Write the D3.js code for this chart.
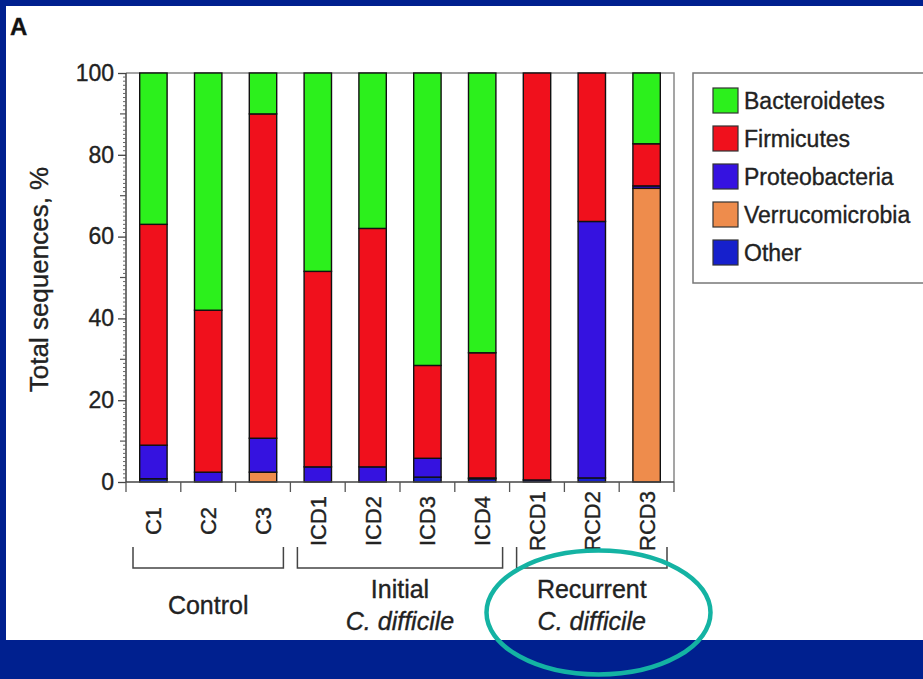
<!DOCTYPE html>
<html>
<head>
<meta charset="utf-8">
<script src="https://cdn.jsdelivr.net/npm/d3@7"></script>
<style>
  html, body { margin: 0; padding: 0; background: #00208f; }
  svg { display: block; font-family: "Liberation Sans", Arial, Helvetica, sans-serif; }
  svg text { stroke: #222; stroke-width: 0.35px; }
</style>
</head>
<body>
<svg id="chart" width="923" height="679"></svg>
<script>
// Samples and their groups
const samples = ["C1", "C2", "C3", "ICD1", "ICD2", "ICD3", "ICD4", "RCD1", "RCD2", "RCD3"];
const groups = [
  { lines: ["Control"], italic: [false], from: "C1", to: "C3" },
  { lines: ["Initial", "C. difficile"], italic: [false, true], from: "ICD1", to: "ICD4" },
  { lines: ["Recurrent", "C. difficile"], italic: [false, true], from: "RCD1", to: "RCD3" }
];

// Phylum share of total sequences (%), one array per phylum, in sample order
const other           = [0.8, 0,    0,    0,    0,    1.2,  0.8,  0.5,  1.0,  0];
const verrucomicrobia = [0,   0,    2.4,  0,    0,    0,    0,    0,    0,    71.8];
const proteobacteria  = [8.2, 2.4,  8.3,  3.7,  3.7,  4.6,  0.2,  0,    62.7, 0.6];
const firmicutes      = [54.0, 39.6, 79.3, 47.8, 58.3, 22.7, 30.6, 99.5, 36.3, 10.3];
const bacteroidetes   = [37.0, 58.0, 10.0, 48.5, 38.0, 71.5, 68.4, 0,    0,    17.3];

const yTicks = [0, 20, 40, 60, 80, 100];

// Stack order from the baseline upward
const stackKeys = ["Other", "Verrucomicrobia", "Proteobacteria", "Firmicutes", "Bacteroidetes"];
const seriesValues = {
  "Other": other,
  "Verrucomicrobia": verrucomicrobia,
  "Proteobacteria": proteobacteria,
  "Firmicutes": firmicutes,
  "Bacteroidetes": bacteroidetes
};
const legendKeys = ["Bacteroidetes", "Firmicutes", "Proteobacteria", "Verrucomicrobia", "Other"];
const colors = {
  "Bacteroidetes": "#2cf01c",
  "Firmicutes": "#f0101c",
  "Proteobacteria": "#3512e0",
  "Verrucomicrobia": "#ee8c4c",
  "Other": "#1620cc"
};

const table = samples.map((s, i) => {
  const row = { sample: s };
  stackKeys.forEach(k => { row[k] = seriesValues[k][i]; });
  return row;
});

const svg = d3.select("#chart");

// White panel on the blue slide
svg.append("rect").attr("x", 6).attr("y", 6).attr("width", 917).attr("height", 634).attr("fill", "#fff");

svg.append("text").attr("x", 10).attr("y", 35)
  .attr("font-size", 24).attr("font-weight", "bold").attr("fill", "#111").text("A");

const x = d3.scaleBand().domain(samples).range([126, 674]).paddingInner(0.5).paddingOuter(0.25);
const y = d3.scaleLinear().domain([0, 100]).range([482, 73]);

// Frame on top and right
svg.append("path")
  .attr("d", `M${x.range()[0]},${y(100)}H${x.range()[1]}V${y(0)}`)
  .attr("fill", "none").attr("stroke", "#888").attr("stroke-width", 1.5);

// Stacked bars
const stacked = d3.stack().keys(stackKeys)(table);
const layers = svg.append("g").selectAll("g").data(stacked).join("g")
  .attr("fill", d => colors[d.key]);
layers.selectAll("rect").data(d => d.filter(p => p[1] - p[0] > 0)).join("rect")
  .attr("x", d => x(d.data.sample))
  .attr("width", x.bandwidth())
  .attr("y", d => y(d[1]))
  .attr("height", d => y(d[0]) - y(d[1]))
  .attr("stroke", "#111").attr("stroke-width", 1.4);

// Y axis with minor ticks
const minor = d3.range(0, 101, 1).filter(v => v % 10 !== 0);
const mid = d3.range(10, 100, 20);
const yAxisG = svg.append("g").attr("transform", `translate(${x.range()[0]},0)`);
yAxisG.append("line").attr("y1", y(0)).attr("y2", y(100)).attr("stroke", "#444").attr("stroke-width", 1.5);
yAxisG.selectAll("line.minor").data(minor).join("line").attr("class", "minor")
  .attr("x1", -3).attr("x2", 0).attr("y1", d => y(d)).attr("y2", d => y(d))
  .attr("stroke", "#666").attr("stroke-width", 1);
yAxisG.selectAll("line.mid").data(mid).join("line").attr("class", "mid")
  .attr("x1", -6).attr("x2", 0).attr("y1", d => y(d)).attr("y2", d => y(d))
  .attr("stroke", "#555").attr("stroke-width", 1.2);
const yAxis = d3.axisLeft(y).tickValues(yTicks).tickSize(8).tickPadding(4);
const yg = svg.append("g").attr("transform", `translate(${x.range()[0]},0)`).call(yAxis);
yg.select(".domain").remove();
yg.selectAll(".tick line").attr("stroke", "#444").attr("stroke-width", 1.3);
yg.selectAll(".tick text").attr("font-size", 23).attr("fill", "#222")
  .attr("font-family", "Liberation Sans, Arial, sans-serif");

svg.append("text")
  .attr("transform", `translate(48,${(y(0) + y(100)) / 2 + 2}) rotate(-90)`)
  .attr("text-anchor", "middle").attr("font-size", 26).attr("fill", "#222")
  .text("Total sequences, %");

// X axis: baseline and ticks between bars
const step = x.step();
const boundaries = d3.range(samples.length + 1).map(i => x.range()[0] + i * step);
svg.append("line").attr("x1", x.range()[0]).attr("x2", x.range()[1])
  .attr("y1", y(0)).attr("y2", y(0)).attr("stroke", "#444").attr("stroke-width", 1.5);
svg.append("g").selectAll("line").data(boundaries).join("line")
  .attr("x1", d => d).attr("x2", d => d)
  .attr("y1", y(0)).attr("y2", y(0) + 10)
  .attr("stroke", "#555").attr("stroke-width", 1.3);

// Rotated sample labels
svg.append("g").selectAll("text").data(samples).join("text")
  .attr("transform", d => `translate(${x(d) + x.bandwidth() / 2 + 8},521) rotate(-90)`)
  .attr("text-anchor", "middle").attr("font-size", 22).attr("fill", "#222")
  .text(d => d);

// Group brackets and names
const bracketTop = 547, bracketBottom = 568;
const bracketInset = 7;
groups.forEach(g => {
  const x0 = x(g.from) - (step - x.bandwidth()) / 2 + bracketInset;
  const x1 = x(g.to) + x.bandwidth() + (step - x.bandwidth()) / 2 - bracketInset;
  svg.append("path")
    .attr("d", `M${x0},${bracketTop}V${bracketBottom}H${x1}V${bracketTop}`)
    .attr("fill", "none").attr("stroke", "#444").attr("stroke-width", 1.5);
  const cx = (x0 + x1) / 2;
  const baseY = g.lines.length === 1 ? 614 : 598;
  g.lines.forEach((line, i) => {
    svg.append("text")
      .attr("x", cx).attr("y", baseY + i * 32)
      .attr("text-anchor", "middle").attr("font-size", 25).attr("fill", "#222")
      .attr("font-style", g.italic[i] ? "italic" : "normal")
      .text(line);
  });
});

// Legend
const lg = svg.append("g");
lg.append("rect").attr("x", 693).attr("y", 73).attr("width", 240).attr("height", 210)
  .attr("fill", "#fff").attr("stroke", "#777").attr("stroke-width", 1.5);
const items = lg.selectAll("g").data(legendKeys).join("g")
  .attr("transform", (d, i) => `translate(713,${88 + i * 38})`);
items.append("rect").attr("width", 25).attr("height", 25)
  .attr("fill", d => colors[d]).attr("stroke", "#333").attr("stroke-width", 1.2);
items.append("text").attr("x", 31).attr("y", 21).attr("font-size", 23).attr("fill", "#222")
  .text(d => d);

// Highlight ring around the recurrent group
svg.append("ellipse")
  .attr("cx", 598.5).attr("cy", 612.5).attr("rx", 112).attr("ry", 62)
  .attr("fill", "none").attr("stroke", "#14b3a3").attr("stroke-width", 4.5);
</script>
</body>
</html>
